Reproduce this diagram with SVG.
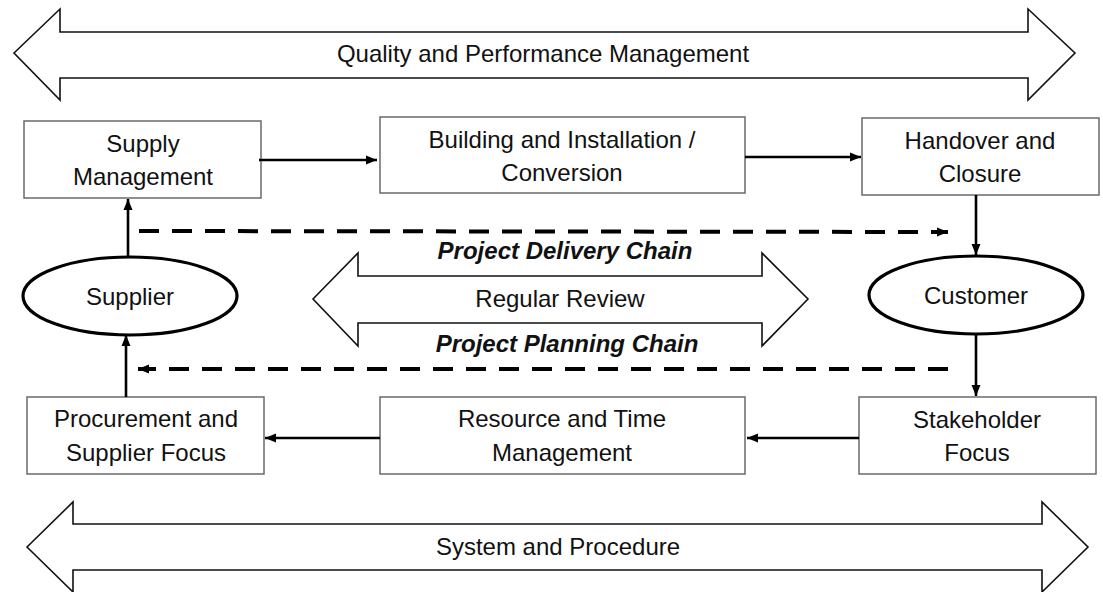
<svg xmlns="http://www.w3.org/2000/svg" width="1103" height="592" viewBox="0 0 1103 592">
<defs>
<style>
.t{font-family:"Liberation Sans",Arial,sans-serif;font-size:24px;fill:#111;text-anchor:middle}
.b{font-weight:bold;font-style:italic}
.box{fill:#fff;stroke:#6a6a6a;stroke-width:1.5}
.big{fill:#fff;stroke:#111;stroke-width:1.6;stroke-linejoin:miter}
.ell{fill:#fff;stroke:#000;stroke-width:3.2}
.c{fill:none;stroke:#000;stroke-width:2.6}
.d{fill:none;stroke:#000;stroke-width:4;stroke-dasharray:20 13}
</style>
<marker id="ah" markerUnits="userSpaceOnUse" markerWidth="12" markerHeight="12" viewBox="0 0 12 12" refX="11" refY="6" orient="auto">
<path d="M0,1.5 L11,6 L0,10.5 Z" fill="#000"/>
</marker>
</defs>
<rect width="1103" height="592" fill="#fff"/>
<g id="quality">
<path class="big" d="M14,53 L60,9 L60,32 L1028,32 L1028,9 L1075,53 L1028,100 L1028,78 L60,78 L60,100 Z"/>
<text class="t" x="543" y="62">Quality and Performance Management</text>
</g>
<g id="system">
<path class="big" d="M27,547 L73,502 L73,524 L1042,524 L1042,502 L1088,547 L1042,592 L1042,570 L73,570 L73,592 Z"/>
<text class="t" x="558" y="555">System and Procedure</text>
</g>
<g id="review">
<path class="big" d="M313,299 L358,253 L358,276 L762,276 L762,253 L808,299 L762,346 L762,323 L358,323 L358,346 Z"/>
<text class="t" x="560" y="307">Regular Review</text>
</g>
<g id="delivery-label"><text class="t b" x="565" y="259">Project Delivery Chain</text></g>
<g id="planning-label"><text class="t b" x="567" y="352">Project Planning Chain</text></g>
<g id="supply">
<rect class="box" x="24" y="121" width="237" height="77"/>
<text class="t" x="143" y="152">Supply</text>
<text class="t" x="143" y="185">Management</text>
</g>
<g id="building">
<rect class="box" x="380" y="117" width="365" height="76"/>
<text class="t" x="562" y="148">Building and Installation /</text>
<text class="t" x="562" y="181">Conversion</text>
</g>
<g id="handover">
<rect class="box" x="862" y="118" width="237" height="77"/>
<text class="t" x="980" y="149">Handover and</text>
<text class="t" x="980" y="182">Closure</text>
</g>
<g id="supplier">
<ellipse class="ell" cx="130" cy="296" rx="107" ry="39"/>
<text class="t" x="130" y="305">Supplier</text>
</g>
<g id="customer">
<ellipse class="ell" cx="976" cy="295" rx="107" ry="39"/>
<text class="t" x="976" y="304">Customer</text>
</g>
<g id="procurement">
<rect class="box" x="27" y="397" width="237" height="77"/>
<text class="t" x="146" y="427">Procurement and</text>
<text class="t" x="146" y="461">Supplier Focus</text>
</g>
<g id="resource">
<rect class="box" x="380" y="397" width="365" height="77"/>
<text class="t" x="562" y="427">Resource and Time</text>
<text class="t" x="562" y="461">Management</text>
</g>
<g id="stakeholder">
<rect class="box" x="859" y="397" width="237" height="77"/>
<text class="t" x="977" y="428">Stakeholder</text>
<text class="t" x="977" y="461">Focus</text>
</g>
<g id="connectors">
<line class="c" x1="259" y1="160" x2="377" y2="160" marker-end="url(#ah)"/>
<line class="c" x1="745" y1="157" x2="861" y2="157" marker-end="url(#ah)"/>
<line class="c" x1="976" y1="195" x2="976" y2="255" marker-end="url(#ah)"/>
<line class="c" x1="976" y1="335" x2="976" y2="396" marker-end="url(#ah)"/>
<line class="c" x1="859" y1="438" x2="747" y2="438" marker-end="url(#ah)"/>
<line class="c" x1="380" y1="438" x2="265" y2="438" marker-end="url(#ah)"/>
<line class="c" x1="126" y1="397" x2="126" y2="335" marker-end="url(#ah)"/>
<line class="c" x1="128" y1="257" x2="128" y2="199" marker-end="url(#ah)"/>
<line class="d" x1="139" y1="231" x2="948" y2="232" marker-end="url(#ah)"/>
<line class="d" x1="948" y1="369" x2="138" y2="369" marker-end="url(#ah)"/>
</g>
</svg>
